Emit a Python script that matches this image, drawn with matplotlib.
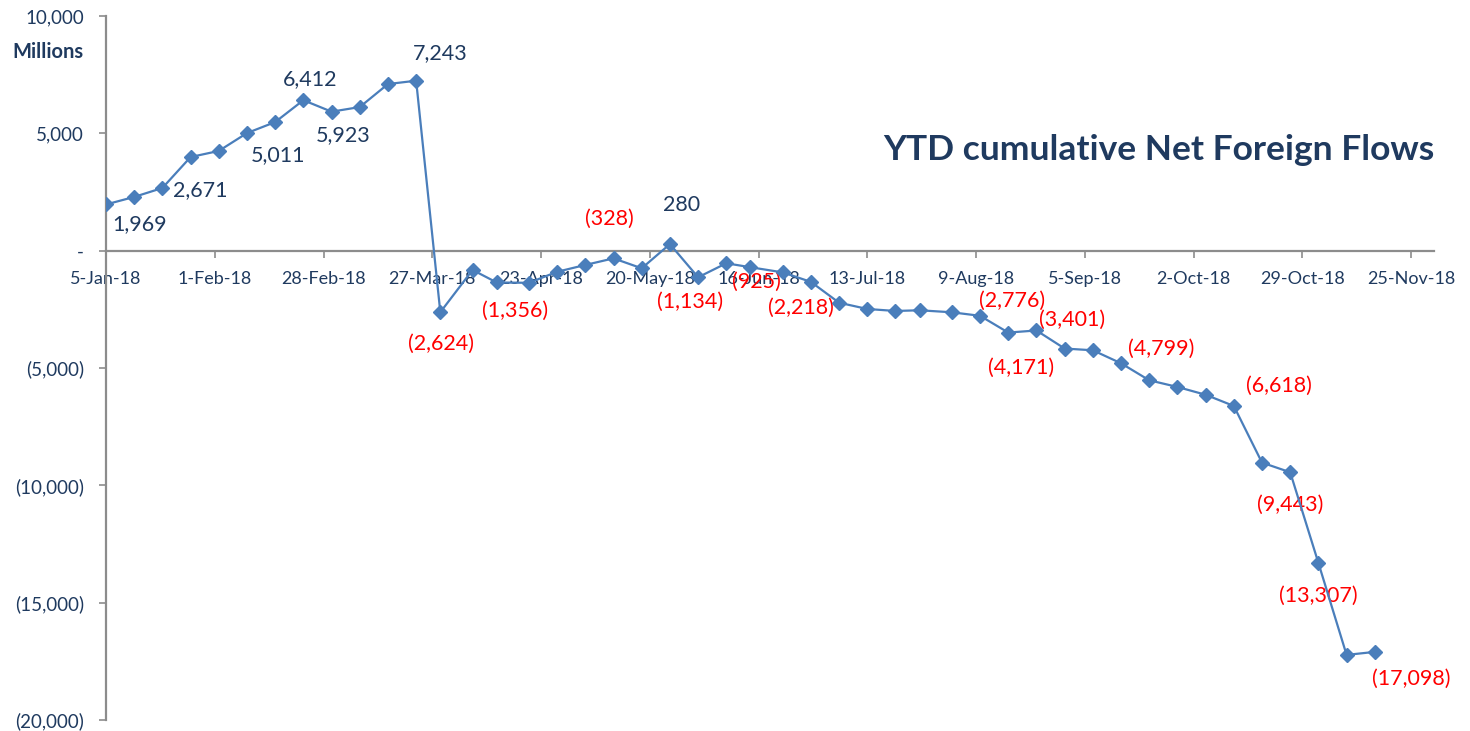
import matplotlib
matplotlib.use("Agg")
import matplotlib.pyplot as plt
import matplotlib.dates as mdates
from matplotlib.ticker import FixedLocator, FuncFormatter
import datetime as dt

plt.rcParams['font.family'] = ['Lato', 'DejaVu Sans']

# Weekly year-to-date cumulative net foreign flows (millions)
dates = [
    "2018-01-05", "2018-01-12", "2018-01-19", "2018-01-26", "2018-02-02", "2018-02-09",
    "2018-02-16", "2018-02-23", "2018-03-02", "2018-03-09", "2018-03-16", "2018-03-23",
    "2018-03-29", "2018-04-06", "2018-04-12", "2018-04-20", "2018-04-27", "2018-05-04",
    "2018-05-11", "2018-05-18", "2018-05-25", "2018-06-01", "2018-06-08", "2018-06-14",
    "2018-06-22", "2018-06-29", "2018-07-06", "2018-07-13", "2018-07-20", "2018-07-26",
    "2018-08-03", "2018-08-10", "2018-08-17", "2018-08-24", "2018-08-31", "2018-09-07",
    "2018-09-14", "2018-09-21", "2018-09-28", "2018-10-05", "2018-10-12", "2018-10-19",
    "2018-10-26", "2018-11-02", "2018-11-09", "2018-11-16",
]
flows = [
    1969, 2290, 2671, 3990, 4250, 5011,
    5480, 6412, 5923, 6120, 7100, 7243,
    -2624, -822, -1356, -1370, -900, -609,
    -328, -751, 280, -1134, -537, -707,
    -925, -1330, -2218, -2485, -2570, -2540,
    -2626, -2776, -3490, -3401, -4171, -4245,
    -4799, -5523, -5808, -6140, -6618, -9033,
    -9443, -13307, -17226, -17098,
]

# Points that carry a value label, with the label offset (pixels)
label_idx = [0, 2, 5, 7, 8, 11, 12, 14, 18, 20, 21, 24, 26, 31, 33, 34, 36, 40, 42, 43, 45]
label_dx = [34, 38, 31, 7, 12, 24, 1, 18, -4, 12, -8, -26, -38, 32, 36, -44, 40, 45, 0, 0, 36]
label_dy = [-20, -2, -22, 21, -23, 28, -32, -28, 40, 39, -25, -9, -5, 15, 11, -19, 14, 20, -33, -33, -27]

y_ticks = [10000, 5000, 0, -5000, -10000, -15000, -20000]
x_tick_labels = ["5-Jan-18", "1-Feb-18", "28-Feb-18", "27-Mar-18", "23-Apr-18", "20-May-18",
                 "16-Jun-18", "13-Jul-18", "9-Aug-18", "5-Sep-18", "2-Oct-18", "29-Oct-18",
                 "25-Nov-18"]

title = "YTD cumulative Net Foreign Flows"
unit_label = "Millions"

line_color = "#4A7EBB"
navy = "#1F3A5F"
red = "#FF0000"
axis_grey = "#8C8C8C"

x = [dt.datetime.strptime(d, "%Y-%m-%d") for d in dates]
x_ticks = [dt.datetime.strptime(t, "%d-%b-%y") for t in x_tick_labels]

fig = plt.figure(figsize=(14.7, 7.31), dpi=100)
ax = fig.add_axes([106 / 1470, 1 - 720 / 731, (1434 - 106) / 1470, (720 - 16) / 731])

ax.plot(x, flows, color=line_color, lw=1.6, marker="D", ms=7.2,
        markerfacecolor=line_color, markeredgecolor=line_color, zorder=3)

ax.set_ylim(-20000, 10000)
ax.set_xlim(x[0], x[0] + dt.timedelta(days=329.7))

for s in ("top", "right"):
    ax.spines[s].set_visible(False)
ax.spines["bottom"].set_position(("data", 0))
for s in ("left", "bottom"):
    ax.spines[s].set_color(axis_grey)
    ax.spines[s].set_linewidth(1.6)

ax.yaxis.set_major_locator(FixedLocator(y_ticks))


def fmt_val(v, pos=None):
    if v == 0:
        return "-"
    if v < 0:
        return f"({abs(v):,.0f})"
    return f"{v:,.0f}"


ax.yaxis.set_major_formatter(FuncFormatter(fmt_val))
ax.set_xticks(mdates.date2num(x_ticks))
ax.set_xticklabels(x_tick_labels)

ax.tick_params(axis="y", direction="out", length=5, width=1.2, color=axis_grey,
               labelsize=13.5, labelcolor=navy, pad=11)
ax.tick_params(axis="x", direction="out", length=5, width=1.2, color=axis_grey,
               labelsize=13, labelcolor=navy, pad=10)

for i, dx, dy in zip(label_idx, label_dx, label_dy):
    v = flows[i]
    ax.annotate(fmt_val(v), (x[i], v), xytext=(dx, dy), textcoords="offset pixels",
                ha="center", va="center", fontsize=15.5,
                color=red if v < 0 else navy, zorder=2)

fig.text(883 / 1470, 1 - 150 / 731, title, ha="left", va="center",
         fontsize=25.5, fontweight="bold", color=navy)
fig.text(12 / 1470, 1 - 52 / 731, unit_label, ha="left", va="center",
         fontsize=14.5, fontweight="bold", color=navy)

fig.savefig("out.png", dpi=100, facecolor="white")
